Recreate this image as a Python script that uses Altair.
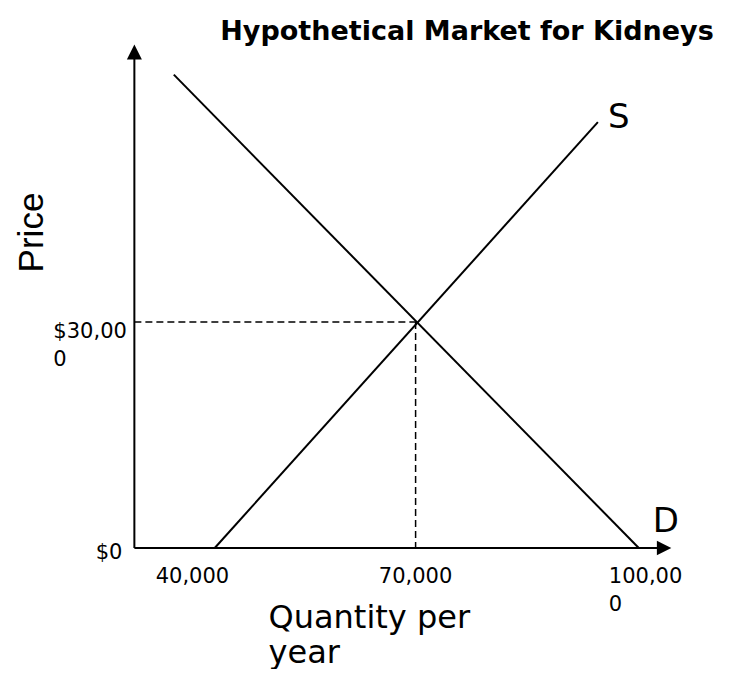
import altair as alt
import pandas as pd

# ---- data (quantity per year, price) ----
axis_origin_q = 32200          # where the price axis crosses
price_axis_top = 65800         # arrow head on price axis
quantity_axis_end = 103400     # arrow head on quantity axis

demand_q = [37500, 100000]
demand_p = [62800, 0]
supply_q = [43000, 94500]
supply_p = [0, 56500]

eq_q = 70000
eq_p = 30000

x_ticks = [40000, 70000, 100000]
x_tick_labels = ["40,000", "70,000", "100,00\n0"]
y_ticks = [0, 30000]
y_tick_labels = ["$0", "$30,00\n0"]

curve_names = ["D", "S"]

# ---- tables ----
curves = pd.DataFrame({
    "curve": ["D", "D", "S", "S"],
    "q": demand_q + supply_q,
    "p": demand_p + supply_p,
    "o": [0, 1, 0, 1],
})
axes_df = pd.DataFrame({
    "curve": ["y", "y", "x", "x"],
    "q": [axis_origin_q, axis_origin_q, axis_origin_q, quantity_axis_end],
    "p": [0, price_axis_top, 0, 0],
    "o": [0, 1, 0, 1],
})
dashed = pd.DataFrame({
    "curve": ["h", "h", "v", "v"],
    "q": [axis_origin_q, eq_q, eq_q, eq_q],
    "p": [eq_p, eq_p, eq_p, 0],
    "o": [0, 1, 0, 1],
})
arrow_up = pd.DataFrame({"q": [axis_origin_q], "p": [price_axis_top]})
arrow_right = pd.DataFrame({"q": [quantity_axis_end], "p": [0]})

xt_center = pd.DataFrame({"q": x_ticks[:2], "p": [0, 0], "t": x_tick_labels[:2]})
xt_left = pd.DataFrame({"q": x_ticks[2:], "p": [0], "t": x_tick_labels[2:]})
yt_zero = pd.DataFrame({"q": [axis_origin_q], "p": [y_ticks[0]], "t": [y_tick_labels[0]]})
yt_mid = pd.DataFrame({"q": [axis_origin_q], "p": [y_ticks[1]], "t": [y_tick_labels[1]]})
s_lab = pd.DataFrame({"q": [supply_q[1]], "p": [supply_p[1]], "t": [curve_names[1]]})
d_lab = pd.DataFrame({"q": [demand_q[1]], "p": [demand_p[1]], "t": [curve_names[0]]})

# ---- shared encodings ----
X = alt.X("q:Q",
          scale=alt.Scale(domain=[30000, 105000], nice=False, zero=False),
          axis=alt.Axis(domain=False, ticks=False, labels=False, grid=False,
                        title=["Quantity per", "year"], titleFont="DejaVu Sans",
                        titleFontSize=32, titleFontWeight="normal", titleColor="black",
                        titleX=150, titleY=79, titleAlign="left", titleAnchor="start",
                        titleBaseline="alphabetic", titleLineHeight=35))
Y = alt.Y("p:Q",
          scale=alt.Scale(domain=[0, 67400], nice=False, zero=False),
          axis=alt.Axis(domain=False, ticks=False, labels=False, grid=False,
                        title="Price", titleFont="Liberation Sans", titleFontSize=35,
                        titleFontWeight="normal", titleColor="black", titleAngle=270,
                        titleX=-76, titleY=192, titleAlign="center",
                        titleBaseline="alphabetic"))

axis_lines = alt.Chart(axes_df).mark_line(color="black", strokeWidth=2).encode(
    x=X, y=Y, detail="curve:N", order="o:Q")
curve_lines = alt.Chart(curves).mark_line(color="black", strokeWidth=2).encode(
    x=X, y=Y, detail="curve:N", order="o:Q")
dash_lines = alt.Chart(dashed).mark_line(color="black", strokeWidth=1.5,
                                         strokeDash=[7, 4]).encode(
    x=X, y=Y, detail="curve:N", order="o:Q")
up = alt.Chart(arrow_up).mark_point(shape="M0,-1L-1,1L1,1Z", size=225, filled=True,
                                    color="black", opacity=1, strokeWidth=0).encode(x=X, y=Y)
right = alt.Chart(arrow_right).mark_point(shape="M1,0L-1,-1L-1,1Z", size=210, filled=True,
                                          color="black", opacity=1, strokeWidth=0).encode(x=X, y=Y)

tfont = dict(font="DejaVu Sans", fontSize=21, color="black", baseline="alphabetic",
             lineBreak="\n", lineHeight=28)
xt1 = alt.Chart(xt_center).mark_text(align="center", dy=35, **tfont).encode(x=X, y=Y, text="t:N")
xt2 = alt.Chart(xt_left).mark_text(align="left", dx=-30, dy=35, **tfont).encode(x=X, y=Y, text="t:N")
yt1 = alt.Chart(yt_zero).mark_text(align="right", dx=-12, dy=11, **tfont).encode(x=X, y=Y, text="t:N")
yt2 = alt.Chart(yt_mid).mark_text(align="left", dx=-81, dy=16, **tfont).encode(x=X, y=Y, text="t:N")

lfont = dict(font="DejaVu Sans", fontSize=34, color="black", baseline="alphabetic",
             align="center")
sl = alt.Chart(s_lab).mark_text(dx=21, dy=6, **lfont).encode(x=X, y=Y, text="t:N")
dl = alt.Chart(d_lab).mark_text(dx=27, dy=-16, **lfont).encode(x=X, y=Y, text="t:N")

chart = alt.layer(
    axis_lines, curve_lines, dash_lines, up, right, xt1, xt2, yt1, yt2, sl, dl
).properties(
    width=558, height=508,
    title=alt.TitleParams("Hypothetical Market for Kidneys", font="DejaVu Sans",
                          fontSize=27, fontWeight="bold", anchor="middle",
                          frame="group", dx=70, dy=29, offset=2, baseline="alphabetic",
                          color="black"),
    autosize=alt.AutoSizeParams(type="none"),
    padding={"left": 110, "top": 32, "right": 60, "bottom": 121},
    background="white",
).configure_view(stroke=None)

chart.save("out.html", embed_options={"renderer": "svg", "actions": False})
